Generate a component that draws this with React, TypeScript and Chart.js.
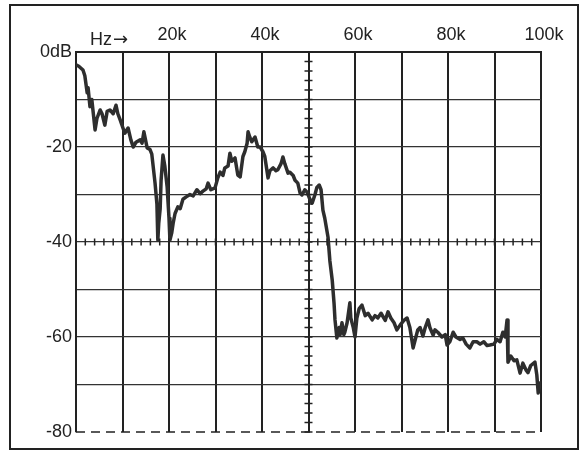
import React, { useEffect, useRef } from "react";
import { Chart, registerables } from "chart.js";

Chart.register(...registerables);

// Frequency in kHz
const freqK: number[] = [
  0, 0.6, 1.5, 1.9, 2.4, 2.6, 3.0, 3.4, 4.1, 4.5, 5.2, 5.6, 6.2, 6.7, 7.3, 8.0, 8.6, 9.0, 9.5, 10.1,
  10.5, 11.2, 11.8, 12.3, 12.9, 13.8, 14.2, 14.6, 15.3, 15.9, 16.3, 17.0, 17.4, 17.6, 17.8, 18.1, 18.3, 18.7, 19.1, 19.6,
  20.0, 20.2, 20.6, 20.9, 21.3, 21.9, 22.4, 23.0, 23.7, 24.5, 25.2, 26.0, 26.7, 27.3, 28.0, 28.4, 29.0, 29.9, 30.5, 31.0,
  31.6, 32.0, 32.7, 33.1, 33.5, 34.2, 34.8, 35.3, 35.9, 36.3, 36.8, 37.0, 37.4, 37.8, 38.5, 39.1, 39.6, 40.2, 40.6, 41.3,
  41.7, 42.4, 43.0, 43.4, 44.1, 44.5, 44.9, 45.6, 46.0, 46.7, 47.1, 47.7, 48.2, 48.6, 49.2, 49.7, 50.3, 50.8, 51.4, 51.8,
  52.3, 52.7, 53.1, 53.5, 54.2, 54.6, 55.1, 55.5, 55.7, 56.1, 56.6, 56.8, 57.2, 57.6, 57.8, 58.3, 58.9, 59.1, 59.6, 60.0,
  60.4, 60.9, 61.5, 62.2, 62.8, 63.7, 64.3, 64.9, 65.6, 66.5, 67.1, 67.7, 68.4, 69.0, 69.7, 70.5, 71.2, 71.8, 72.5, 73.1,
  73.5, 74.0, 74.6, 75.1, 75.7, 76.1, 76.8, 77.2, 77.8, 78.7, 79.4, 79.8, 80.4, 81.1, 81.7, 82.6, 83.2, 83.9, 84.7, 85.4,
  86.2, 86.9, 87.7, 88.4, 89.0, 89.9, 90.5, 91.2, 91.8, 92.3, 92.7, 92.9, 93.5, 94.2, 94.8, 95.5, 96.1, 96.8, 97.2, 97.8,
  98.7, 99.1, 99.4, 99.8,
];

// Level in dB
const levelDb: number[] = [
  -2.7, -3, -3.8, -5, -8.6, -7.5, -11.5, -10, -16.4, -14, -12.2, -13, -15.4, -12.5, -12.2, -13, -11.2, -13, -14.3, -16,
  -17.1, -16, -18.5, -20, -19, -18.5, -19.2, -16.8, -20.2, -20.5, -21.5, -27.6, -32, -39.6, -36, -33, -27, -21.7, -24, -28.4,
  -35, -39.6, -38, -36, -34, -32.6, -33, -31, -30.5, -30, -30.3, -29, -29.8, -29.3, -28.8, -27.6, -29, -28.6, -26.5, -25.3,
  -26, -24.4, -24, -21.3, -23, -22.3, -25.9, -26.3, -22, -21, -19.2, -16.8, -18, -18.9, -17.9, -20, -20, -21, -22, -26.5,
  -25, -24.4, -25, -24.8, -23.5, -22.1, -23.5, -25.5, -25.3, -26, -27, -27.6, -29.7, -30.1, -29, -29.5, -31, -31.8, -30, -28.5,
  -28, -29, -33.3, -35, -39, -44, -48, -53, -56.4, -60.2, -58, -59.5, -57, -59.5, -59, -57, -52.8, -56, -57.9, -60,
  -56, -54, -53.3, -55.5, -55, -56.4, -55.5, -56, -55, -56.5, -54.7, -56, -57, -58.5, -57.5, -56.5, -56, -58, -62.3, -60,
  -58.5, -58, -59.8, -58, -56.4, -58, -59.6, -58.5, -59, -60, -59.5, -61.7, -61, -59, -60, -60.5, -60.2, -61.5, -62.3, -61,
  -61, -61.5, -61, -61.8, -61.7, -61.5, -60.5, -61, -59, -60, -56.4, -65.3, -64, -65, -64.8, -67.6, -65.5, -67, -67.5, -66,
  -65.3, -68, -71.8, -69.7,
];

const freqTicks: number[] = [0, 10, 20, 30, 40, 50, 60, 70, 80, 90, 100];
const freqLabels: Record<number, string> = { 20: "20k", 40: "40k", 60: "60k", 80: "80k", 100: "100k" };
const dbLabels: Record<number, string> = { 0: "0dB", [-20]: "-20", [-40]: "-40", [-60]: "-60", [-80]: "-80" };
const unitText = "Hz";
const unitArrow = "\u2192";

const INK = "#222222";
const FONT = "'Liberation Sans', Arial, sans-serif";

export default function App() {
  const ref = useRef<HTMLCanvasElement | null>(null);

  useEffect(() => {
    document.body.style.margin = "0";
    const canvas = ref.current;
    if (!canvas) return;

    const decor = {
      id: "decor",
      beforeDraw(chart: any) {
        const ctx = chart.ctx;
        ctx.save();
        ctx.fillStyle = "#ffffff";
        ctx.fillRect(0, 0, chart.width, chart.height);
        ctx.strokeStyle = INK;
        ctx.lineWidth = 2;
        ctx.strokeRect(10, 5, 568, 444);
        ctx.restore();
      },
      afterDraw(chart: any) {
        const ctx = chart.ctx;
        const xs = chart.scales.x;
        const ys = chart.scales.y;
        const ca = chart.chartArea;
        ctx.save();
        ctx.strokeStyle = INK;
        // dashed bottom line at -80
        ctx.lineWidth = 1.3;
        ctx.setLineDash([9, 6]);
        const yb = ys.getPixelForValue(-80);
        ctx.beginPath();
        ctx.moveTo(ca.left, yb);
        ctx.lineTo(ca.right, yb);
        ctx.stroke();
        ctx.setLineDash([]);
        // minor ticks on centre vertical (50k)
        const xc = xs.getPixelForValue(50);
        ctx.lineWidth = 1.5;
        for (let v = 0; v >= -80; v -= 2) {
          const y = ys.getPixelForValue(v);
          ctx.beginPath();
          ctx.moveTo(xc - 4, y);
          ctx.lineTo(xc + 4, y);
          ctx.stroke();
        }
        // minor ticks on centre horizontal (-40 dB)
        const yc = ys.getPixelForValue(-40);
        for (let f = 0; f <= 100; f += 2) {
          const x = xs.getPixelForValue(f);
          ctx.beginPath();
          ctx.moveTo(x, yc - 3.5);
          ctx.lineTo(x, yc + 3.5);
          ctx.stroke();
        }
        // unit label "Hz→"
        ctx.fillStyle = INK;
        ctx.textBaseline = "alphabetic";
        ctx.textAlign = "left";
        const x0 = xs.getPixelForValue(3.0);
        ctx.font = `18px ${FONT}`;
        ctx.fillText(unitText, x0, 45);
        const w = ctx.measureText(unitText).width;
        ctx.font = `18px 'DejaVu Sans', sans-serif`;
        ctx.fillText(unitArrow, x0 + w + 1, 45);
        ctx.restore();
      },
    };

    const chart = new Chart(canvas, {
      type: "line",
      data: {
        datasets: [
          {
            data: freqK.map((f, i) => ({ x: f, y: levelDb[i] })),
            borderColor: "#2e2e2e",
            borderWidth: 3.5,
            pointRadius: 0,
            tension: 0,
            fill: false,
            borderJoinStyle: "round",
            borderCapStyle: "round",
          },
        ],
      },
      options: {
        responsive: false,
        animation: false,
        events: [],
        layout: { padding: { left: 0, right: 39, top: 0, bottom: 18 } },
        plugins: { legend: { display: false }, tooltip: { enabled: false } },
        scales: {
          x: {
            type: "linear",
            position: "top",
            min: 0,
            max: 100,
            afterBuildTicks: (s: any) => {
              s.ticks = freqTicks.map((v) => ({ value: v }));
            },
            afterFit: (s: any) => {
              s.height = 52;
            },
            ticks: {
              autoSkip: false,
              maxRotation: 0,
              padding: 6,
              labelOffset: 3,
              color: INK,
              font: { family: FONT, size: 18 },
              callback: (v: any) => freqLabels[v as number] ?? "",
            },
            grid: { color: INK, lineWidth: 2, drawTicks: false },
            border: { display: true, color: INK, width: 2 },
          },
          y: {
            type: "linear",
            min: -80,
            max: 0,
            afterFit: (s: any) => {
              s.width = 76;
            },
            ticks: {
              stepSize: 10,
              autoSkip: false,
              padding: 4,
              color: INK,
              font: { family: FONT, size: 18 },
              callback: (v: any) => dbLabels[v as number] ?? "",
            },
            grid: {
              color: (c: any) => (c.tick && c.tick.value === -80 ? "rgba(0,0,0,0)" : "#333333"),
              lineWidth: (c: any) => (c.tick && c.tick.value === 0 ? 2 : 1.3),
              drawTicks: false,
            },
            border: { display: true, color: INK, width: 2 },
          },
        },
      },
      plugins: [decor],
    } as any);

    return () => chart.destroy();
  }, []);

  return (
    <div style={{ width: 580, height: 450 }}>
      <canvas ref={ref} width={580} height={450} style={{ display: "block" }} />
    </div>
  );
}
